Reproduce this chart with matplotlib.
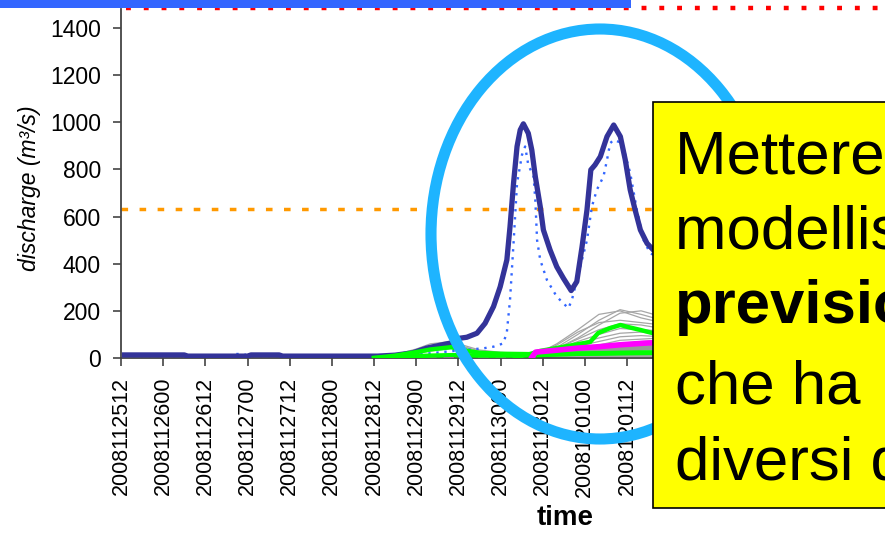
import matplotlib

matplotlib.use("Agg")
import matplotlib.pyplot as plt
from matplotlib.lines import Line2D
from matplotlib.patches import Ellipse, Rectangle

plt.rcParams["font.family"] = ["Liberation Sans", "DejaVu Sans"]

# x is hours after 2008-11-25 12:00, ticks every 12 h
tick_hours = list(range(0, 145, 12))
tick_labels = [
    "2008112512", "2008112600", "2008112612", "2008112700", "2008112712",
    "2008112800", "2008112812", "2008112900", "2008112912", "2008113000",
    "2008113012", "2008120100", "2008120112",
]

# deterministic forecast (thick dark blue)
navy_t = [1, 18, 19, 36, 37, 45, 46, 73, 78, 83, 87, 92, 94, 96,
          98.4, 101.3, 103.6, 106.0, 107.9, 109.8, 110.7, 111.7, 112.7, 113.6, 114.5,
          115.9, 116.9, 117.9, 119.3, 120.2, 122.1, 124.0, 125.9, 128.1,
          129.7, 131.2, 132.6, 133.7, 134.9, 136.4, 138.3, 140.2, 142.1, 143.5,
          144.9, 146.3, 147.8, 149.7, 151.5, 154]
navy_q = [13, 13, 8, 8, 13, 13, 8, 8, 12, 22, 42, 58, 64, 83,
          88, 105, 147, 218, 302, 416, 557, 741, 897, 967, 993,
          953, 882, 769, 642, 543, 458, 387, 338, 286,
          324, 472, 628, 798, 819, 854, 939, 988, 939, 840,
          713, 628, 543, 486, 458, 435]

# second deterministic run (dotted blue)
dot_t = [1, 31, 32, 35, 36, 73, 88, 96,
         103.1, 106, 108.8, 109.8, 110.7, 111.7, 112.7,
         114.1, 115.0, 115.9, 117.4, 117.9, 118.4, 119.3,
         121.2, 124.0, 127.3, 128.3,
         132.6, 134.0, 135.4, 137.3, 138.3, 139.2, 140.2,
         142.6, 144.9, 146.8, 148.7, 150.6, 154]
dot_q = [8, 8, 17, 17, 8, 8, 20, 32,
         41, 48, 62, 110, 246, 487, 741,
         861, 897, 819, 770, 670, 500, 416,
         331, 260, 211, 246,
         500, 642, 713, 770, 840, 911, 925,
         911, 784, 628, 500, 444, 420]

# ensemble issued 2008112812
ens_a_t = [72, 78, 84, 88, 94, 97, 102, 108, 118, 130, 142, 154]
ens_a_members = [
    [0, 14, 38, 60, 70, 56, 34, 24, 16, 14, 14, 14],
    [0, 12, 32, 52, 64, 50, 30, 20, 14, 12, 12, 12],
    [0, 10, 26, 44, 56, 44, 26, 18, 12, 10, 10, 10],
    [0, 8, 22, 36, 48, 36, 22, 15, 10, 9, 9, 9],
    [0, 6, 18, 30, 40, 30, 18, 12, 8, 7, 7, 7],
]
ens_a_upper = [0, 10, 25, 36, 46, 34, 22, 18, 16, 18, 20, 22]
ens_a_lower = [0, 4, 8, 10, 12, 12, 10, 10, 12, 18, 22, 24]
mag_a_t = [72, 84, 96, 108, 118]
mag_a_q = [0, 6, 6, 5, 4]

# ensemble issued 2008113000
ens_b_t = [112, 118, 124, 130, 136, 142, 148, 154]
ens_b_members = [
    [3, 12, 45, 100, 160, 205, 185, 160],
    [3, 15, 60, 120, 185, 200, 170, 150],
    [3, 10, 40, 85, 140, 190, 200, 175],
    [3, 14, 55, 110, 150, 160, 150, 140],
    [3, 12, 40, 80, 120, 145, 140, 125],
    [3, 10, 35, 70, 100, 125, 120, 115],
    [3, 10, 30, 60, 85, 105, 110, 100],
    [3, 8, 25, 50, 70, 90, 95, 90],
    [3, 8, 20, 40, 55, 75, 80, 85],
    [3, 6, 18, 32, 45, 60, 70, 75],
    [3, 6, 15, 25, 35, 45, 55, 60],
]
ens_b_band = [3, 8, 18, 26, 32, 38, 42, 45]
green_b_t = [112, 116, 119.3, 125.8, 133.5, 135.8, 139.2, 142.1, 144.1, 147.8, 151.2, 154]
green_b_q = [5, 15, 30, 47, 68, 106, 127, 140, 132, 119, 106, 98]
mag_b_t = [117, 118, 124, 130, 136, 142, 148, 154]
mag_b_q = [5, 25, 33, 42, 48, 56, 62, 67]

warning_level = 630

W, H = 885, 534


def fx(px):
    return px / W


def fy(py):
    return 1 - py / H


fig = plt.figure(figsize=(W / 100, H / 100), dpi=100)
ax = fig.add_axes([fx(121), fy(358), (660 - 121) / W, (358 - 9) / H])

for m in ens_a_members:
    ax.plot(ens_a_t, m, color="#A6A6A6", lw=0.9, zorder=2)
for m in ens_b_members:
    ax.plot(ens_b_t, m, color="#A6A6A6", lw=0.9, zorder=2)
ax.plot(ens_b_t, ens_b_band, color="#999999", lw=4, zorder=2.2)

ax.plot(dot_t, dot_q, color="#3366FF", lw=1.7, ls=(0, (1, 2.4)), zorder=2.5)
ax.plot(navy_t, navy_q, color="#333399", lw=3.8, solid_joinstyle="round", zorder=2.6)

ax.plot(mag_a_t, mag_a_q, color="#FF00FF", lw=2.5, ls=(0, (3, 2)), zorder=2.8)
ax.plot(ens_a_t, ens_a_lower, color="#00FF00", lw=3.2, zorder=3)
ax.plot(ens_a_t, ens_a_upper, color="#00FF00", lw=3.2, zorder=3)
ax.plot(green_b_t, green_b_q, color="#00FF00", lw=3.2, zorder=3)
ax.plot(mag_b_t, mag_b_q, color="#FF00FF", lw=4, zorder=3.2)

ax.axhline(warning_level, color="#FF9900", lw=2.5, ls=(0, (1.9, 3.3)),
           dash_capstyle="butt", zorder=1.5)

ax.set_xlim(0, (660 - 121) / 42.17 * 12)
ax.set_ylim(0, 1480)
ax.set_xticks(tick_hours)
ax.set_xticklabels(tick_labels, rotation=90, fontsize=15.5)
ax.set_yticks(range(0, 1401, 200))
ax.tick_params(axis="y", labelsize=16.5, length=5.5, width=1.2, pad=9, color="#444444")
ax.tick_params(axis="x", length=5.5, width=1.2, pad=8, color="#444444")
for side in ("top", "right"):
    ax.spines[side].set_visible(False)
for side in ("left", "bottom"):
    ax.spines[side].set_color("#444444")
    ax.spines[side].set_linewidth(1.3)

fig.text(fx(30), fy(188), "discharge (m³/s)", rotation=90, style="italic",
         fontsize=16.5, ha="center", va="center")
fig.text(fx(565), fy(518), "time", fontsize=20, fontweight="bold",
         ha="center", va="center")

# slide header: red dotted rule under the blue bar
fig.add_artist(Line2D([fx(126), 1.0], [fy(8), fy(8)], color="#FF0000", lw=3.2,
                      ls=(0, (1.1, 2.9)), dash_capstyle="butt", zorder=9))
fig.add_artist(Rectangle((0, fy(8)), fx(631), 8 / H, transform=fig.transFigure,
                         facecolor="#3366FF", edgecolor="none", zorder=10))

fig.add_artist(Ellipse((fx(600), fy(234)), 2 * 169 / W, 2 * 205 / H,
                       transform=fig.transFigure, fill=False,
                       edgecolor="#1EB4FF", lw=8, zorder=11))

fig.add_artist(Rectangle((fx(653), fy(508)), (910 - 653) / W, (508 - 102) / H,
                         transform=fig.transFigure, facecolor="#FFFF00",
                         edgecolor="black", lw=1.2, zorder=12))

note_lines = ["Mettere in luce la", "modellistica di", "previsione", "che ha", "diversi dati"]
note_base = [173, 249, 323, 403, 480]
for i, (txt, yb) in enumerate(zip(note_lines, note_base)):
    fig.text(fx(675), fy(yb), txt, fontsize=44.5, va="baseline", ha="left",
             fontweight="bold" if i == 2 else "normal", zorder=13)

fig.savefig("out.png", dpi=100)
